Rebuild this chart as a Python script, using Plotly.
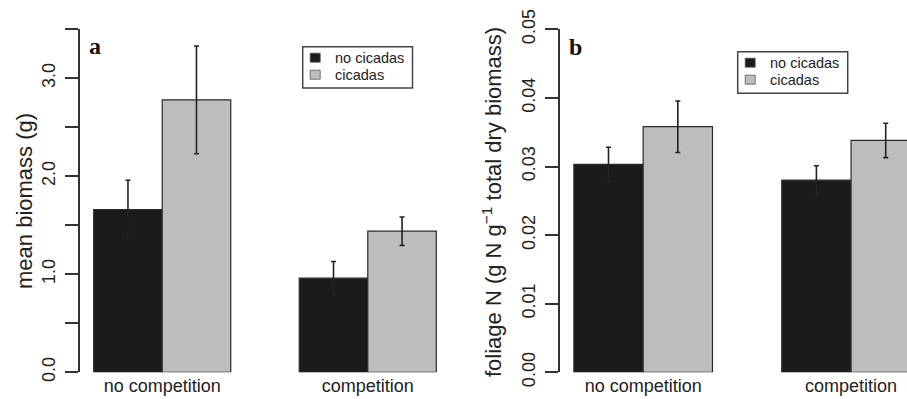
import plotly.graph_objects as go

W, H = 907, 399

# ---- data ----
categories = ["no competition", "competition"]
series_names = ["no cicadas", "cicadas"]

# panel a: mean biomass (g)
biomass_no_cicadas = [1.66, 0.96]
biomass_cicadas = [2.78, 1.44]
biomass_se_no_cicadas = [0.30, 0.17]
biomass_se_cicadas = [0.55, 0.145]

# panel b: foliage N (g N g^-1 total dry biomass)
foliageN_no_cicadas = [0.0303, 0.0280]
foliageN_cicadas = [0.0358, 0.0338]
foliageN_se_no_cicadas = [0.0025, 0.0021]
foliageN_se_cicadas = [0.00375, 0.0025]

biomass_ticks = [0, 0.5, 1.0, 1.5, 2.0, 2.5, 3.0, 3.5]
biomass_ticklabels = ["0.0", "", "1.0", "", "2.0", "", "3.0", ""]
foliage_ticks = [0, 0.01, 0.02, 0.03, 0.04, 0.05]
foliage_ticklabels = ["0.00", "0.01", "0.02", "0.03", "0.04", "0.05"]

# ---- styling ----
FILL = ["#1b1b1b", "#bdbdbd"]
EDGE = "#2a2a2a"
TXT = "#222222"
SANS = "Liberation Sans, Arial, sans-serif"
SERIF = "Liberation Serif, Times New Roman, serif"


def px_x(x):
    return x / W


def px_y(y):
    return 1 - y / H


# R barplot(beside=TRUE) style positions: each group = space 1 + 2 bars
def bar_x(group_index, series_index):
    return 1 + 3 * group_index + 0.5 + series_index


group_centers = [1 + 3 * g + 1 for g in range(len(categories))]

fig = go.Figure()

panels = [
    ("x", "y", [biomass_no_cicadas, biomass_cicadas],
     [biomass_se_no_cicadas, biomass_se_cicadas]),
    ("x2", "y2", [foliageN_no_cicadas, foliageN_cicadas],
     [foliageN_se_no_cicadas, foliageN_se_cicadas]),
]

for xa, ya, vals, ses in panels:
    for s, name in enumerate(series_names):
        fig.add_trace(go.Bar(
            x=[bar_x(g, s) for g in range(len(categories))],
            y=vals[s],
            width=1,
            name=name,
            xaxis=xa, yaxis=ya,
            marker=dict(color=FILL[s], line=dict(color=EDGE, width=1.2)),
            error_y=dict(type="data", array=ses[s], visible=True,
                         color=TXT, thickness=1.6, width=2.5),
            showlegend=False,
        ))

plot_top = 29.3
plot_bot = 372.3
ydom = [px_y(plot_bot), px_y(plot_top)]

axis_common = dict(
    showline=True, linecolor="#333333", linewidth=1.5,
    ticks="outside", ticklen=13, tickwidth=1.5, tickcolor="#333333",
    tickangle=-90, showgrid=False, zeroline=False, automargin=False,
    tickfont=dict(family=SANS, size=18, color=TXT),
    ticklabelstandoff=3,
)
xaxis_common = dict(
    showline=False, ticks="", showgrid=False, zeroline=False, automargin=False,
    tickvals=group_centers, ticktext=categories,
    tickfont=dict(family=SANS, size=18, color=TXT),
    ticklabelstandoff=1,
)

unit_b = 69.3
fig.update_layout(
    width=W, height=H,
    margin=dict(l=0, r=0, t=0, b=0, autoexpand=False),
    paper_bgcolor="white", plot_bgcolor="white",
    barmode="overlay",
    showlegend=False,
    xaxis=dict(domain=[px_x(80), px_x(450)], range=[0.8, 6.2], **xaxis_common),
    xaxis2=dict(domain=[px_x(560), 1.0],
                range=[0.8, 0.8 + (W - 560) / unit_b], **xaxis_common),
    yaxis=dict(domain=ydom, range=[0, 3.5], tickvals=biomass_ticks,
               ticktext=biomass_ticklabels, anchor="x", **axis_common),
    yaxis2=dict(domain=ydom, range=[0, 0.05], tickvals=foliage_ticks,
                ticktext=foliage_ticklabels, anchor="x2", **axis_common),
)

annotations = [
    dict(text="mean biomass (g)", x=px_x(24), y=px_y(201), textangle=-90,
         font=dict(family=SANS, size=22, color=TXT)),
    dict(text="foliage N (g N g<sup>\u22121</sup> total dry biomass)",
         x=px_x(492), y=px_y(202), textangle=-90,
         font=dict(family=SANS, size=22, color=TXT)),
    dict(text="<b>a</b>", x=px_x(95), y=px_y(46),
         font=dict(family=SERIF, size=24, color="#111111")),
    dict(text="<b>b</b>", x=px_x(575), y=px_y(47),
         font=dict(family=SERIF, size=24, color="#111111")),
]

# manual R-style legends (box, filled squares, labels)
shapes = []
legend_boxes = [(302.7, 46.7, 412.5, 88.0), (737.7, 51.7, 847.7, 93.3)]
for (x0, y0, x1, y1) in legend_boxes:
    shapes.append(dict(type="rect", xref="paper", yref="paper",
                       x0=px_x(x0), x1=px_x(x1), y0=px_y(y1), y1=px_y(y0),
                       line=dict(color="#444444", width=1.5),
                       fillcolor="white", layer="above"))
    for s, name in enumerate(series_names):
        cy = y0 + 11 + 17 * s
        shapes.append(dict(type="rect", xref="paper", yref="paper",
                           x0=px_x(x0 + 7.5), x1=px_x(x0 + 17.5),
                           y0=px_y(cy + 4.5), y1=px_y(cy - 4.5),
                           line=dict(color="#555555", width=0.8),
                           fillcolor=FILL[s], layer="above"))
        annotations.append(dict(text=name, x=px_x(x0 + 30.5), y=px_y(cy),
                                xanchor="left",
                                font=dict(family=SANS, size=14.5, color=TXT)))

for a in annotations:
    a.setdefault("xanchor", "center")
    a.update(xref="paper", yref="paper", showarrow=False, yanchor="middle")
fig.update_layout(annotations=annotations, shapes=shapes)

fig.write_html("out.html")
